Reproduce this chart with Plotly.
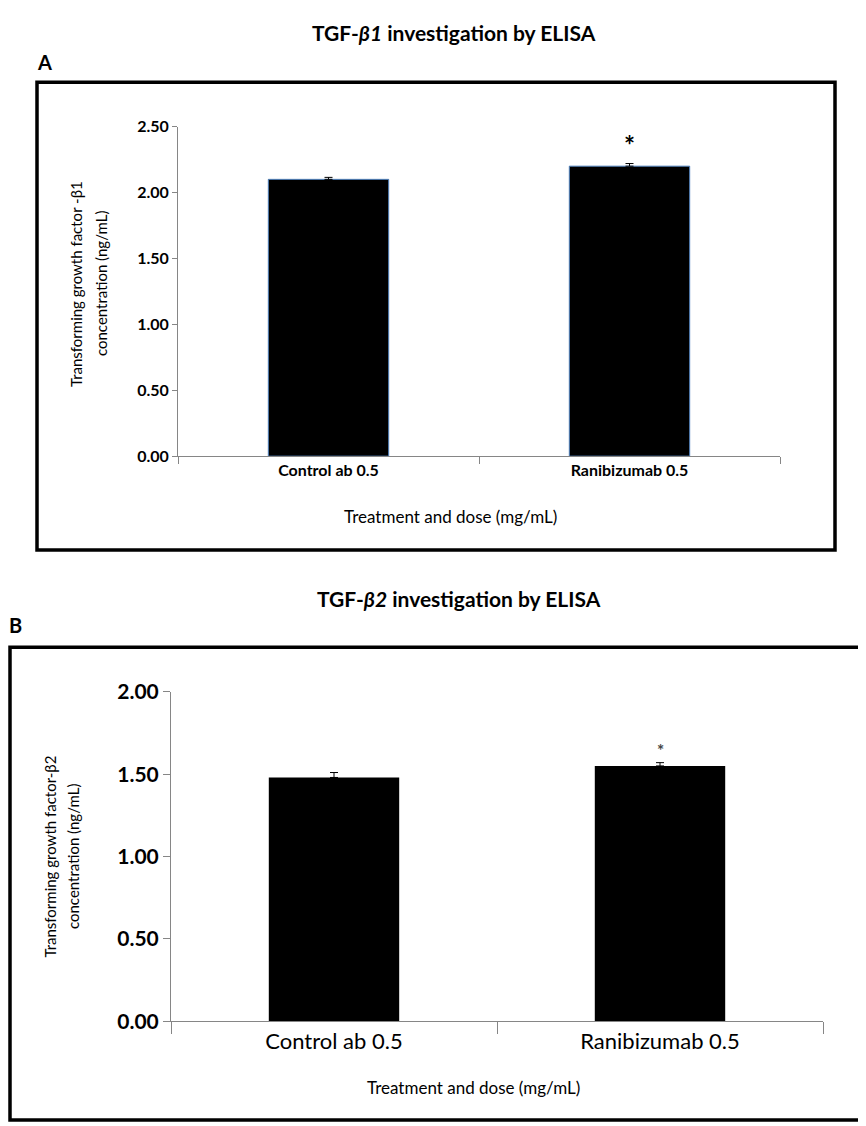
import plotly.graph_objects as go

W, H = 866, 1126

categories = ["Control ab 0.5", "Ranibizumab 0.5"]
tgf_b1_values = [2.10, 2.20]
tgf_b1_errors = [0.015, 0.02]
tgf_b2_values = [1.48, 1.55]
tgf_b2_errors = [0.03, 0.02]
b1_ticks = [0.0, 0.5, 1.0, 1.5, 2.0, 2.5]
b2_ticks = [0.0, 0.5, 1.0, 1.5, 2.0]
b1_star_y = 2.40
b2_star_y = 1.66

FONT = "Lato, Carlito, Calibri, sans-serif"


def px(x):
    return x / W


def py(y):
    return 1 - y / H


fig = go.Figure()

fig.add_trace(go.Bar(
    x=categories, y=tgf_b1_values, width=0.4,
    marker=dict(color="black", line=dict(color="#4F81BD", width=1)),
    error_y=dict(type="data", array=tgf_b1_errors, arrayminus=[0, 0],
                 symmetric=False, color="black", thickness=1, width=4),
    xaxis="x", yaxis="y", showlegend=False,
))
fig.add_trace(go.Bar(
    x=categories, y=tgf_b2_values, width=0.4,
    marker=dict(color="black", line=dict(color="black", width=0)),
    error_y=dict(type="data", array=tgf_b2_errors, arrayminus=[0, 0],
                 symmetric=False, color="black", thickness=1, width=4),
    xaxis="x2", yaxis="y2", showlegend=False,
))

axis_common = dict(showgrid=False, zeroline=False, showline=True,
                   linecolor="#868686", linewidth=1, ticks="outside",
                   tickcolor="#868686")

fig.update_layout(
    width=W, height=H,
    margin=dict(l=0, r=0, t=0, b=0),
    paper_bgcolor="white", plot_bgcolor="white",
    font=dict(family=FONT, color="black"),
    xaxis=dict(domain=[px(170), px(772)], anchor="y", tickson="boundaries",
               ticklen=7, tickfont=dict(size=16, family=FONT, weight="bold"),
               **axis_common),
    yaxis=dict(domain=[py(444), py(107)], anchor="x", range=[0, 2.5],
               tickvals=b1_ticks, tickformat=".2f", ticklen=5,
               tickfont=dict(size=16, family=FONT, weight="bold"), **axis_common),
    xaxis2=dict(domain=[px(163), px(815)], anchor="y2", tickson="boundaries",
                ticklen=12, tickfont=dict(size=22, family=FONT), **axis_common),
    yaxis2=dict(domain=[py(1022), py(685)], anchor="x2", range=[0, 2.0],
                tickvals=b2_ticks, tickformat=".2f", ticklen=7,
                tickfont=dict(size=21, family=FONT, weight="bold"), **axis_common),
)

shapes = [
    dict(type="rect", xref="paper", yref="paper", x0=px(29), x1=px(827),
         y0=py(540), y1=py(61.5), line=dict(color="black", width=3.5)),
    dict(type="rect", xref="paper", yref="paper", x0=px(2), x1=px(863),
         y0=py(1123), y1=py(639.5), line=dict(color="black", width=3.5)),
]
fig.update_layout(shapes=shapes)

ann = [
    dict(text="<b>TGF-<i>β1</i> investigation by ELISA</b>", x=px(446), y=py(11),
         font=dict(size=21)),
    dict(text="<b>A</b>", x=px(36), y=py(41), font=dict(size=20)),
    dict(text="Transforming growth factor -β1", x=px(68), y=py(268),
         textangle=-90, font=dict(size=15)),
    dict(text="concentration (ng/mL)", x=px(93), y=py(268),
         textangle=-90, font=dict(size=15)),
    dict(text="Treatment and dose (mg/mL)", x=px(442), y=py(506),
         font=dict(size=17)),
    dict(text="<b>TGF-<i>β2</i> investigation by ELISA</b>", x=px(451), y=py(590),
         font=dict(size=21)),
    dict(text="<b>B</b>", x=px(7), y=py(617), font=dict(size=20)),
    dict(text="Transforming growth factor-β2", x=px(42.5), y=py(854),
         textangle=-90, font=dict(size=15)),
    dict(text="concentration (ng/mL)", x=px(65), y=py(854),
         textangle=-90, font=dict(size=15)),
    dict(text="Treatment and dose (mg/mL)", x=px(465), y=py(1090),
         font=dict(size=17)),
]
for a in ann:
    a.update(xref="paper", yref="paper", showarrow=False,
             xanchor="center", yanchor="middle")
    a["font"] = dict(family=FONT, color="black", **a["font"])

ann.append(dict(text="<b>*</b>", x=categories[1], y=b1_star_y, xref="x", yref="y",
                showarrow=False, font=dict(size=26, family=FONT, color="black"),
                yanchor="middle", yshift=-5))
ann.append(dict(text="<b>*</b>", x=categories[1], y=b2_star_y, xref="x2", yref="y2",
                showarrow=False, font=dict(size=17, family=FONT, color="#444"),
                yanchor="middle", yshift=-3))
fig.update_layout(annotations=ann)

fig.write_html("out.html")
